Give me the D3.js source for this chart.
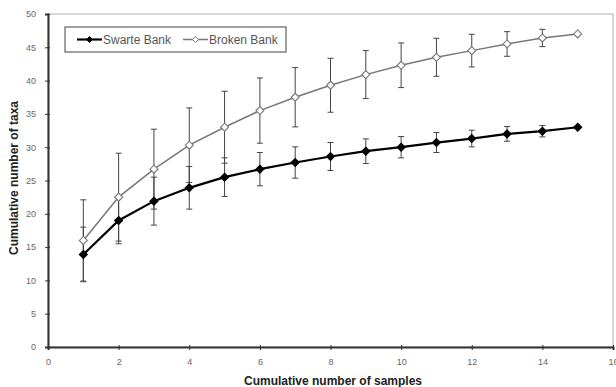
<!DOCTYPE html>
<html>
<head>
<meta charset="utf-8">
<script src="https://cdn.jsdelivr.net/npm/d3@7"></script>
<style>
  body { margin: 0; background: #fff; }
  svg { display: block; font-family: "Liberation Sans", Arial, sans-serif; }
</style>
</head>
<body>
<svg id="graph"></svg>
<script>
// Data
var samples = [1, 2, 3, 4, 5, 6, 7, 8, 9, 10, 11, 12, 13, 14, 15];
var swarteMean = [13.9, 19.0, 21.9, 23.9, 25.5, 26.7, 27.7, 28.6, 29.4, 30.0, 30.7, 31.3, 32.0, 32.4, 33.0];
var swarteErr  = [4.1, 3.5, 3.6, 3.2, 2.9, 2.5, 2.35, 2.1, 1.85, 1.6, 1.5, 1.25, 1.1, 0.85, 0];
var brokenMean = [16.0, 22.5, 26.7, 30.3, 33.0, 35.5, 37.5, 39.3, 40.9, 42.3, 43.5, 44.5, 45.5, 46.4, 47.0];
var brokenErr  = [6.1, 6.6, 6.0, 5.6, 5.4, 4.9, 4.45, 4.05, 3.6, 3.35, 2.85, 2.45, 1.85, 1.3, 0];
var xTicks = [0, 2, 4, 6, 8, 10, 12, 14, 16];
var yTicks = [0, 5, 10, 15, 20, 25, 30, 35, 40, 45, 50];

var margin = {top: 14, right: 3, bottom: 40, left: 48},
    W = 616, H = 387,
    width = W - margin.left - margin.right,
    height = H - margin.top - margin.bottom;

var svg = d3.select("#graph").attr("width", W).attr("height", H);
var g = svg.append("g").attr("transform", "translate(" + margin.left + "," + margin.top + ")");

var xScale = d3.scaleLinear().domain([0, 16]).range([0, width]);
var yScale = d3.scaleLinear().domain([0, 50]).range([height, 0]);

// Plot frame (top and right in light gray)
g.append("rect")
  .attr("x", 0).attr("y", 0).attr("width", width).attr("height", height)
  .attr("fill", "none").attr("stroke", "#b0b0b0").attr("stroke-width", 1);

// Axes
var xAxis = g.append("g")
  .attr("transform", "translate(0," + height + ")")
  .call(d3.axisBottom(xScale).tickValues(xTicks).tickSize(3).tickPadding(9))
  .call(a => a.select(".domain").attr("stroke", "#333").attr("stroke-width", 2));
xAxis.selectAll(".tick line").attr("stroke", "#333").attr("y1", -2);
xAxis.selectAll(".tick text").attr("fill", "#666").style("font-size", "9px");

var yAxis = g.append("g")
  .call(d3.axisLeft(yScale).tickValues(yTicks).tickSize(3).tickPadding(9))
  .call(a => a.select(".domain").attr("stroke", "#333").attr("stroke-width", 2));
yAxis.selectAll(".tick line").attr("stroke", "#333").attr("x1", 2);
yAxis.selectAll(".tick text").attr("fill", "#666").style("font-size", "9px");

// Axis titles
svg.append("text")
  .attr("x", 333).attr("y", 385)
  .attr("text-anchor", "middle")
  .style("font-size", "12px").style("font-weight", "bold").attr("fill", "#222")
  .text("Cumulative number of samples");

svg.append("text")
  .attr("transform", "translate(18,178) rotate(-90)")
  .attr("text-anchor", "middle")
  .style("font-size", "12px").style("font-weight", "bold").attr("fill", "#222")
  .text("Cumulative number of taxa");

var series = [
  {name: "Swarte Bank", mean: swarteMean, err: swarteErr, color: "#000", width: 2.2, fill: "#000"},
  {name: "Broken Bank", mean: brokenMean, err: brokenErr, color: "#777", width: 1.5, fill: "#fff"}
];

// square diamond, half diagonal r
function diamond(r) {
  return "M0," + (-r) + "L" + r + ",0L0," + r + "L" + (-r) + ",0Z";
}
var line = d3.line().x(d => xScale(d.x)).y(d => yScale(d.y));

// Error bars first, lines and markers drawn over them
series.forEach(function(s) {
  var pts = samples.map((x, i) => ({x: x, y: s.mean[i], e: s.err[i]}));
  var eb = g.append("g").selectAll("g")
    .data(pts.filter(d => d.e > 0))
    .enter().append("g").attr("stroke", "#444").attr("stroke-width", 1);
  eb.append("line")
    .attr("x1", d => xScale(d.x)).attr("x2", d => xScale(d.x))
    .attr("y1", d => yScale(d.y - d.e)).attr("y2", d => yScale(d.y + d.e));
  eb.append("line")
    .attr("x1", d => xScale(d.x) - 3).attr("x2", d => xScale(d.x) + 3)
    .attr("y1", d => yScale(d.y + d.e)).attr("y2", d => yScale(d.y + d.e));
  eb.append("line")
    .attr("x1", d => xScale(d.x) - 3).attr("x2", d => xScale(d.x) + 3)
    .attr("y1", d => yScale(d.y - d.e)).attr("y2", d => yScale(d.y - d.e));
  s.pts = pts;
});

series.slice().reverse().forEach(function(s) {
  g.append("path")
    .datum(s.pts)
    .attr("fill", "none").attr("stroke", s.color).attr("stroke-width", s.width)
    .attr("d", line);
  g.append("g").selectAll("path")
    .data(s.pts)
    .enter().append("path")
    .attr("transform", d => "translate(" + xScale(d.x) + "," + yScale(d.y) + ")")
    .attr("d", diamond(4))
    .attr("fill", s.fill).attr("stroke", s.color).attr("stroke-width", 1.1);
});

// Legend
var legend = svg.append("g").attr("transform", "translate(65,27)");
legend.append("rect")
  .attr("width", 221).attr("height", 25)
  .attr("fill", "#fff").attr("stroke", "#444").attr("stroke-width", 1);
var lx = [12, 118];
series.forEach(function(s, i) {
  var item = legend.append("g").attr("transform", "translate(" + lx[i] + ",12.5)");
  item.append("line").attr("x1", 0).attr("x2", 25)
    .attr("stroke", s.color).attr("stroke-width", s.width);
  item.append("path").attr("transform", "translate(12.5,0)")
    .attr("d", diamond(3)).attr("fill", s.fill).attr("stroke", s.color).attr("stroke-width", 1);
  item.append("text").attr("x", 26).attr("y", 4.5)
    .style("font-size", "12px").attr("fill", "#555")
    .text(s.name);
});
</script>
</body>
</html>
